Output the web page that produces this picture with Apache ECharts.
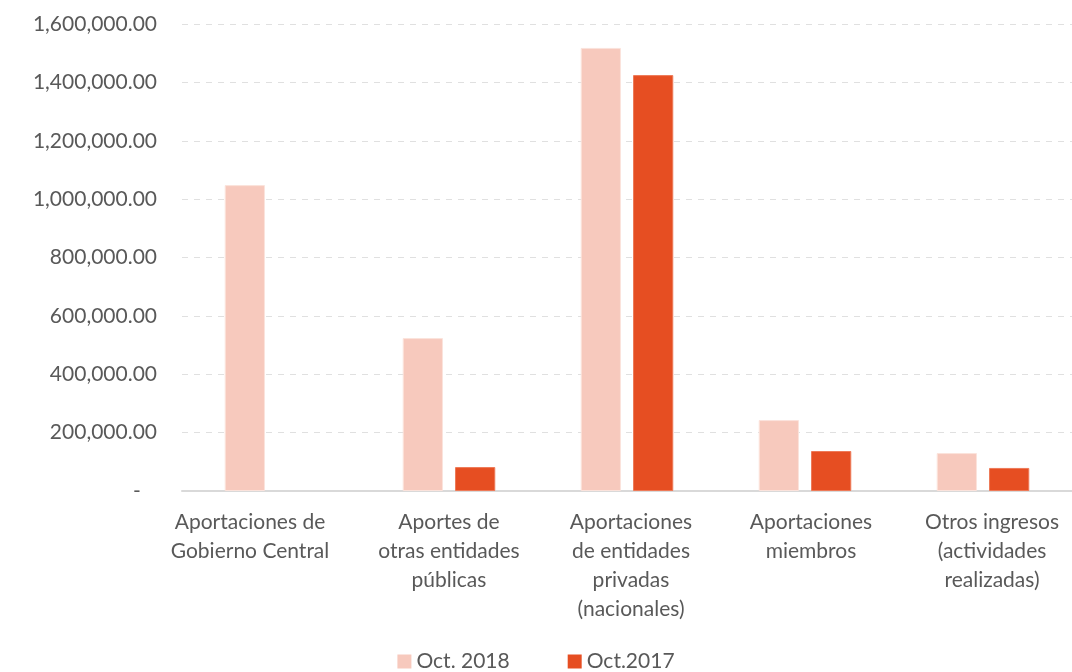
<!DOCTYPE html>
<html>
<head>
<meta charset="utf-8">
<script src="https://cdn.jsdelivr.net/npm/echarts@6/dist/echarts.min.js"></script>
<style>
    html, body { margin: 0; padding: 0; background: #fff; }
    #ingresos_chart { width: 1072px; height: 672px; }
</style>
</head>
<body>
<div id="ingresos_chart"></div>
<script>
// Chart data
// ------------------------------

var categorias = [
    'Aportaciones de\nGobierno Central',
    'Aportes de\notras entidades\npúblicas',
    'Aportaciones\nde entidades\nprivadas\n(nacionales)',
    'Aportaciones\nmiembros',
    'Otros ingresos\n(actividades\nrealizadas)'
];
var oct2018 = [1048000, 524000, 1518000, 243000, 130000];
var oct2017 = [null, 82000, 1425000, 137000, 79000];
var serieNames = ['Oct. 2018', 'Oct.2017'];
var yTicks = { min: 0, max: 1600000, interval: 200000 };


// Setup chart
// ------------------------------

var IngresosChart = function() {

    var _barChart = function() {
        if (typeof echarts == 'undefined') {
            console.warn('Warning - echarts.min.js is not loaded.');
            return;
        }

        var element = document.getElementById('ingresos_chart');
        if (!element) return;

        var chart = echarts.init(element);

        var fontFamily = 'Lato, "Open Sans", sans-serif';
        var textColor = '#595959';

        // Excel nudges the labels a bit off the category centre
        var labelShift = [-21, 0, 4, 6, 9];
        var xData = categorias.map(function(c, i) {
            var s = labelShift[i];
            return {
                value: c,
                textStyle: { padding: s < 0 ? [0, -2 * s, 0, 0] : [0, 0, 0, 2 * s] }
            };
        });

        chart.setOption({

            // Colors
            color: ['#F7C9BD', '#E64E22'],

            textStyle: {
                fontFamily: fontFamily,
                fontSize: 21,
                color: textColor
            },

            animation: false,

            grid: {
                left: 182,
                right: 0,
                top: 24,
                bottom: 181
            },

            legend: {
                bottom: -5,
                left: 'center',
                data: serieNames,
                icon: 'rect',
                itemWidth: 14,
                itemHeight: 14,
                itemGap: 58,
                itemStyle: { borderWidth: 0 },
                textStyle: {
                    fontFamily: fontFamily,
                    fontSize: 21,
                    color: textColor
                }
            },

            xAxis: {
                type: 'category',
                data: xData,
                axisTick: { show: false },
                axisLine: {
                    lineStyle: { color: '#D9D9D9', width: 2 }
                },
                axisLabel: {
                    interval: 0,
                    margin: 17,
                    fontFamily: fontFamily,
                    fontSize: 21,
                    lineHeight: 29,
                    color: textColor
                }
            },

            yAxis: {
                type: 'value',
                min: yTicks.min,
                max: yTicks.max,
                interval: yTicks.interval,
                axisLine: { show: false },
                axisTick: { show: false },
                splitLine: {
                    lineStyle: { color: '#E0E0E0', type: [6, 6], width: 1 }
                },
                axisLabel: {
                    margin: 25,
                    fontFamily: fontFamily,
                    fontSize: 21,
                    color: textColor,
                    formatter: function(v) {
                        if (v === 0) return '-   ';
                        return v.toLocaleString('en-US', { minimumFractionDigits: 2, maximumFractionDigits: 2 });
                    }
                }
            },

            series: [{
                name: serieNames[0],
                type: 'bar',
                data: oct2018,
                barGap: '30%',
                barCategoryGap: '48%',
                itemStyle: { borderColor: '#FBE3DC', borderWidth: 1 }
            }, {
                name: serieNames[1],
                type: 'bar',
                data: oct2017,
                itemStyle: { borderColor: '#EE7A58', borderWidth: 1 }
            }]
        });

        window.addEventListener('resize', function() {
            chart.resize();
        });
    };

    return {
        init: function() {
            _barChart();
        }
    };
}();

document.addEventListener('DOMContentLoaded', function() {
    IngresosChart.init();
});
</script>
</body>
</html>
